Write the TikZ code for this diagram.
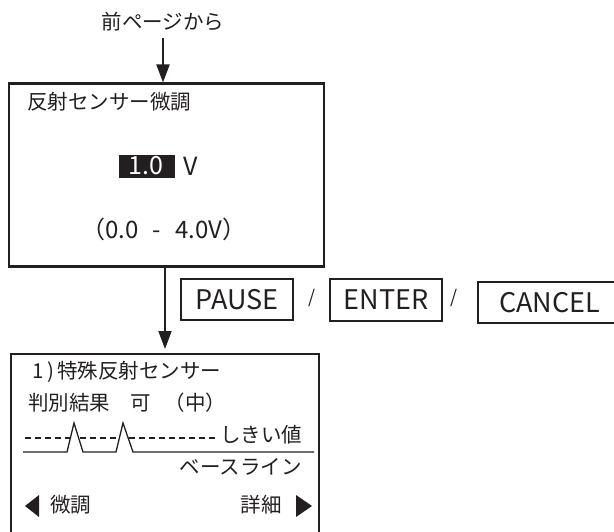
\documentclass[tikz,border=0pt]{standalone}
\usepackage{fontspec}
\newfontfamily\jp{Noto Sans CJK JP}
\usetikzlibrary{arrows.meta}
\definecolor{ink}{HTML}{231F20}
\begin{document}
\begin{tikzpicture}[x=1pt,y=-1pt,
  font=\jp\fontsize{20.5}{24}\selectfont,
  frame/.style={draw=ink, line width=2.2pt, inner sep=0pt},
  txt/.style={inner sep=0pt, text=ink},
  btn/.style={draw=ink, line width=2pt, inner sep=0pt, text=ink, minimum height=41pt, font=\jp\fontsize{27}{30}\selectfont},
  arr/.style={-{Triangle[length=18pt,width=13pt]}, line width=2pt, draw=ink},
  curve/.style={draw=ink, line width=1.3pt},
  dline/.style={draw=ink, line width=1.3pt, dash pattern=on 6pt off 4pt}]
\useasboundingbox (0,0) rectangle (614,532);
\clip (0,0) rectangle (614,532);
% header
\node[txt] (from) at (163,22) {前ページから};
\coordinate (a1) at (163,38);
% box 1
\node[frame, anchor=north west, minimum width=315pt, minimum height=183pt] (box1) at (8,82.5) {};
\draw[arr] (a1) -- (a1 |- box1.north);
\node[txt, anchor=west] (title1) at (27,102) {反射センサー微調};
\node[fill=ink, minimum width=56pt, minimum height=23pt, inner sep=0pt] (valbox) at (147,166.5) {};
\node[txt, text=white, font=\jp\fontsize{25}{28}\selectfont] (val) at (146,166) {1.0};
\node[txt, font=\jp\fontsize{25}{28}\selectfont] (unit) at (191,166) {V};
\node[txt, font=\jp\fontsize{24}{28}\selectfont] (range) at (164,229) {（0.0\hspace{14pt}-\hspace{14pt}4.0V）};
% box 2
\node[frame, anchor=north west, minimum width=308pt, minimum height=220pt] (box2) at (10,353) {};
\coordinate (a2) at (165,265);
\draw[arr, shorten >=4pt] (a2) -- (a2 |- box2.north);
% buttons
\node[btn, minimum width=112pt] (pause) at (237,299.5) {PAUSE};
\node[txt, font=\jp\fontsize{18}{20}\selectfont] (s1) at (312,298) {/};
\node[btn, minimum width=112pt] (enter) at (386,300) {ENTER};
\node[txt, font=\jp\fontsize{18}{20}\selectfont] (s2) at (454,298) {/};
\node[btn, minimum width=145pt, anchor=west, text width=131pt, align=left] (cancel) at (477,302.5) {\hspace{14pt}CANCEL};
% box 2 contents
\node[txt, anchor=west] (l1) at (32,372) {1\hspace{4pt})\hspace{3pt}特殊反射センサー};
\node[txt, anchor=west] (l2) at (28,403) {判別結果\hspace{20pt}可\hspace{14pt}（中）};
\draw[dline] (25,438) -- (70,438);
\draw[dline] (80,438) -- (119,438);
\draw[dline] (129,438) -- (215,438);
\node[txt, anchor=west] (thr) at (220,435) {しきい値};
\draw[curve] (23,452) -- (67,452) -- (74,423) -- (83,452) -- (116,452) -- (123,423) -- (133,452) -- (314,452);
\node[txt, anchor=east] (base) at (302,467) {ベースライン};
\fill[ink] (25,506) -- (39,495) -- (39,517) -- cycle;
\node[txt, anchor=west] (fine) at (50,505) {微調};
\node[txt, anchor=east] (detail) at (282,505) {詳細};
\fill[ink] (312,506) -- (296,495) -- (296,517) -- cycle;
\end{tikzpicture}
\end{document}
